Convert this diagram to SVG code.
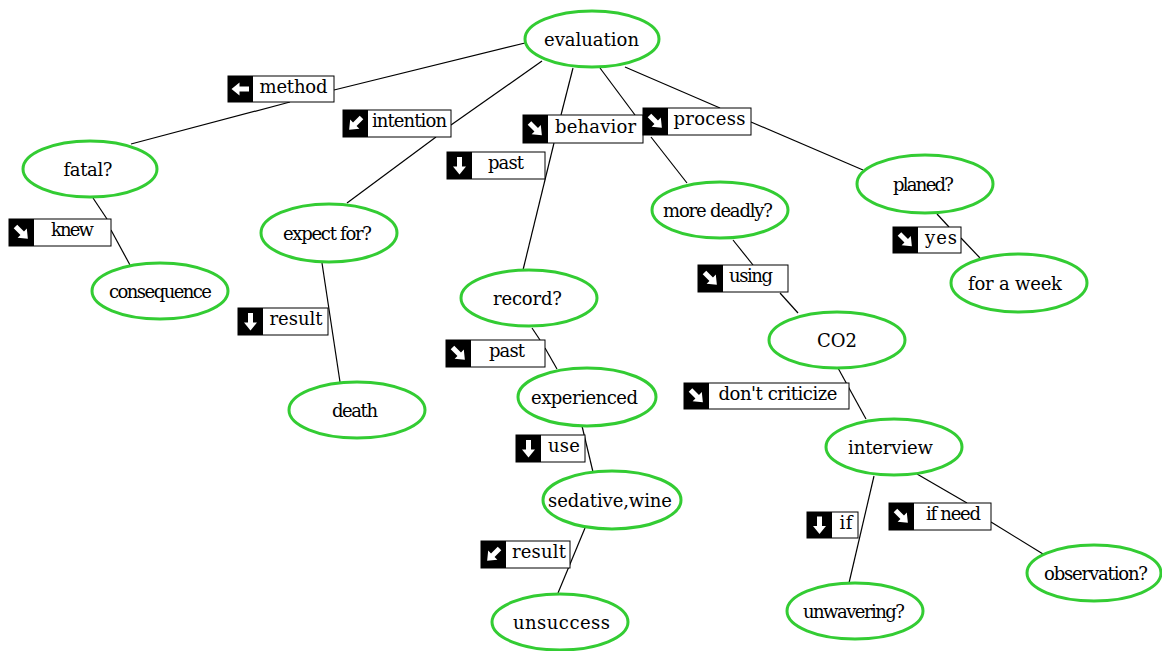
<svg xmlns="http://www.w3.org/2000/svg" xmlns:xlink="http://www.w3.org/1999/xlink" width="1162" height="651" viewBox="0 0 1162 651">
<style>
.node ellipse{fill:#fff;stroke:#33cc33;stroke-width:3}
.node text{font-family:"DejaVu Serif","Liberation Serif",serif;font-size:18px;fill:#000;text-anchor:middle}
.conn line{stroke:#000;stroke-width:1.2}
.lbl .box{fill:#fff;stroke:#000;stroke-width:1}
.lbl .ico{fill:#000}
.lbl text{font-family:"DejaVu Serif","Liberation Serif",serif;font-size:18px;fill:#000;text-anchor:middle}
.arr{fill:#fff}
</style>
<defs>
<path id="arr" class="arr" d="M-2.5,-8.5 H2.5 V1 H6.5 L0,9 L-6.5,1 H-2.5 Z"/>
</defs>
<rect width="1162" height="651" fill="#fff"/>
<g id="connectors" class="conn">
<line x1="525" y1="43" x2="334" y2="90"/>
<line x1="290" y1="102" x2="131" y2="144"/>
<line x1="542" y1="61" x2="451" y2="125"/>
<line x1="436" y1="137" x2="347" y2="203"/>
<line x1="573" y1="68" x2="561" y2="115"/>
<line x1="554" y1="143" x2="523" y2="270"/>
<line x1="600" y1="68" x2="635" y2="115"/>
<line x1="651" y1="137" x2="687" y2="183"/>
<line x1="625" y1="67" x2="720" y2="108"/>
<line x1="751" y1="122" x2="863" y2="170"/>
<line x1="937" y1="214" x2="949" y2="227"/>
<line x1="961" y1="238" x2="980" y2="258"/>
<line x1="93" y1="198" x2="107" y2="219"/>
<line x1="111" y1="230" x2="130" y2="265"/>
<line x1="322" y1="263" x2="340" y2="382"/>
<line x1="532" y1="328" x2="540" y2="340"/>
<line x1="545" y1="348" x2="557" y2="369"/>
<line x1="582" y1="426" x2="593" y2="472"/>
<line x1="585" y1="528" x2="558" y2="593"/>
<line x1="733" y1="240" x2="753" y2="265"/>
<line x1="780" y1="293" x2="798" y2="313"/>
<line x1="838" y1="368" x2="866" y2="419"/>
<line x1="874" y1="476" x2="849" y2="583"/>
<line x1="917" y1="474" x2="967" y2="503"/>
<line x1="991" y1="522" x2="1043" y2="554"/>
</g>
<g id="edge-labels">
<g id="lbl-method" class="lbl"><rect class="box" x="228" y="76" width="106" height="26"/><rect class="ico" x="228" y="76" width="25" height="26"/><use xlink:href="#arr" transform="translate(240.5,89) rotate(90)"/><text x="293.5" y="93" textLength="68" lengthAdjust="spacing">method</text></g>
<g id="lbl-intention" class="lbl"><rect class="box" x="343" y="110" width="108" height="27"/><rect class="ico" x="343" y="110" width="25" height="27"/><use xlink:href="#arr" transform="translate(355.5,123.5) rotate(45)"/><text x="409.5" y="127" textLength="75" lengthAdjust="spacing">intention</text></g>
<g id="lbl-behavior" class="lbl"><rect class="box" x="523" y="115" width="120" height="28"/><rect class="ico" x="523" y="115" width="25" height="28"/><use xlink:href="#arr" transform="translate(535.5,129) rotate(-45)"/><text x="595.5" y="133" textLength="81" lengthAdjust="spacing">behavior</text></g>
<g id="lbl-process" class="lbl"><rect class="box" x="643" y="108" width="108" height="27"/><rect class="ico" x="643" y="108" width="25" height="27"/><use xlink:href="#arr" transform="translate(655.5,121.5) rotate(-45)"/><text x="709.5" y="125" textLength="72" lengthAdjust="spacing">process</text></g>
<g id="lbl-past1" class="lbl"><rect class="box" x="447" y="152" width="98" height="27"/><rect class="ico" x="447" y="152" width="25" height="27"/><use xlink:href="#arr" transform="translate(459.5,165.5)"/><text x="506" y="169" textLength="36" lengthAdjust="spacing">past</text></g>
<g id="lbl-knew" class="lbl"><rect class="box" x="9" y="219" width="102" height="27"/><rect class="ico" x="9" y="219" width="25" height="27"/><use xlink:href="#arr" transform="translate(21.5,232.5) rotate(-45)"/><text x="72.5" y="236" textLength="43" lengthAdjust="spacing">knew</text></g>
<g id="lbl-result1" class="lbl"><rect class="box" x="238" y="308" width="90" height="27"/><rect class="ico" x="238" y="308" width="25" height="27"/><use xlink:href="#arr" transform="translate(250.5,321.5)"/><text x="296" y="325" textLength="53" lengthAdjust="spacing">result</text></g>
<g id="lbl-past2" class="lbl"><rect class="box" x="446" y="340" width="99" height="27"/><rect class="ico" x="446" y="340" width="25" height="27"/><use xlink:href="#arr" transform="translate(458.5,353.5) rotate(-45)"/><text x="507" y="357" textLength="36" lengthAdjust="spacing">past</text></g>
<g id="lbl-use" class="lbl"><rect class="box" x="516" y="435" width="69" height="27"/><rect class="ico" x="516" y="435" width="25" height="27"/><use xlink:href="#arr" transform="translate(528.5,448.5)"/><text x="564" y="452" textLength="32" lengthAdjust="spacing">use</text></g>
<g id="lbl-result2" class="lbl"><rect class="box" x="481" y="541" width="89" height="27"/><rect class="ico" x="481" y="541" width="25" height="27"/><use xlink:href="#arr" transform="translate(493.5,554.5) rotate(45)"/><text x="539" y="558" textLength="54" lengthAdjust="spacing">result</text></g>
<g id="lbl-using" class="lbl"><rect class="box" x="698" y="265" width="90" height="27"/><rect class="ico" x="698" y="265" width="25" height="27"/><use xlink:href="#arr" transform="translate(710.5,278.5) rotate(-45)"/><text x="751" y="282" textLength="44" lengthAdjust="spacing">using</text></g>
<g id="lbl-yes" class="lbl"><rect class="box" x="893" y="227" width="68" height="26"/><rect class="ico" x="893" y="227" width="25" height="26"/><use xlink:href="#arr" transform="translate(905.5,240) rotate(-45)"/><text x="941" y="244" textLength="32" lengthAdjust="spacing">yes</text></g>
<g id="lbl-dontcriticize" class="lbl"><rect class="box" x="684" y="383" width="165" height="26"/><rect class="ico" x="684" y="383" width="25" height="26"/><use xlink:href="#arr" transform="translate(696.5,396) rotate(-45)"/><text x="778" y="400" textLength="119" lengthAdjust="spacing">don't criticize</text></g>
<g id="lbl-if" class="lbl"><rect class="box" x="807" y="512" width="51" height="26"/><rect class="ico" x="807" y="512" width="25" height="26"/><use xlink:href="#arr" transform="translate(819.5,525)"/><text x="846" y="529" textLength="13" lengthAdjust="spacing">if</text></g>
<g id="lbl-ifneed" class="lbl"><rect class="box" x="889" y="503" width="102" height="27"/><rect class="ico" x="889" y="503" width="25" height="27"/><use xlink:href="#arr" transform="translate(901.5,516.5) rotate(-45)"/><text x="953.5" y="520" textLength="55" lengthAdjust="spacing">if need</text></g>
</g>
<g id="node-evaluation" class="node"><ellipse cx="592" cy="39" rx="67" ry="28"/><text x="591.5" y="46" textLength="95" lengthAdjust="spacing">evaluation</text></g>
<g id="node-fatal" class="node"><ellipse cx="90" cy="169" rx="67" ry="28"/><text x="88" y="176" textLength="49" lengthAdjust="spacing">fatal?</text></g>
<g id="node-consequence" class="node"><ellipse cx="160" cy="291" rx="68" ry="28"/><text x="160.5" y="298" textLength="103" lengthAdjust="spacing">consequence</text></g>
<g id="node-expectfor" class="node"><ellipse cx="329" cy="233" rx="68" ry="29"/><text x="327.5" y="240" textLength="89" lengthAdjust="spacing">expect for?</text></g>
<g id="node-death" class="node"><ellipse cx="357" cy="410" rx="68" ry="28"/><text x="355" y="417" textLength="46" lengthAdjust="spacing">death</text></g>
<g id="node-record" class="node"><ellipse cx="529" cy="298" rx="68" ry="28"/><text x="527.5" y="305" textLength="69" lengthAdjust="spacing">record?</text></g>
<g id="node-experienced" class="node"><ellipse cx="587" cy="397" rx="69" ry="29"/><text x="584.5" y="404" textLength="107" lengthAdjust="spacing">experienced</text></g>
<g id="node-sedativewine" class="node"><ellipse cx="612" cy="500" rx="69" ry="29"/><text x="610" y="507" textLength="124" lengthAdjust="spacing">sedative,wine</text></g>
<g id="node-unsuccess" class="node"><ellipse cx="560" cy="622" rx="68" ry="28"/><text x="561.5" y="629" textLength="97" lengthAdjust="spacing">unsuccess</text></g>
<g id="node-moredeadly" class="node"><ellipse cx="720" cy="210" rx="68" ry="28"/><text x="718" y="217" textLength="110" lengthAdjust="spacing">more deadly?</text></g>
<g id="node-planed" class="node"><ellipse cx="925" cy="184" rx="68" ry="29"/><text x="923.5" y="191" textLength="61" lengthAdjust="spacing">planed?</text></g>
<g id="node-forweek" class="node"><ellipse cx="1019" cy="283" rx="68" ry="29"/><text x="1015" y="290" textLength="94" lengthAdjust="spacing">for a week</text></g>
<g id="node-co2" class="node"><ellipse cx="837" cy="340" rx="68" ry="28"/><text x="837" y="347" textLength="40" lengthAdjust="spacing">CO2</text></g>
<g id="node-interview" class="node"><ellipse cx="894" cy="447" rx="68" ry="28"/><text x="890.5" y="454" textLength="85" lengthAdjust="spacing">interview</text></g>
<g id="node-unwavering" class="node"><ellipse cx="855" cy="611" rx="68" ry="28"/><text x="854" y="618" textLength="102" lengthAdjust="spacing">unwavering?</text></g>
<g id="node-observation" class="node"><ellipse cx="1094" cy="573" rx="67" ry="28"/><text x="1096" y="580" textLength="104" lengthAdjust="spacing">observation?</text></g>
</svg>
